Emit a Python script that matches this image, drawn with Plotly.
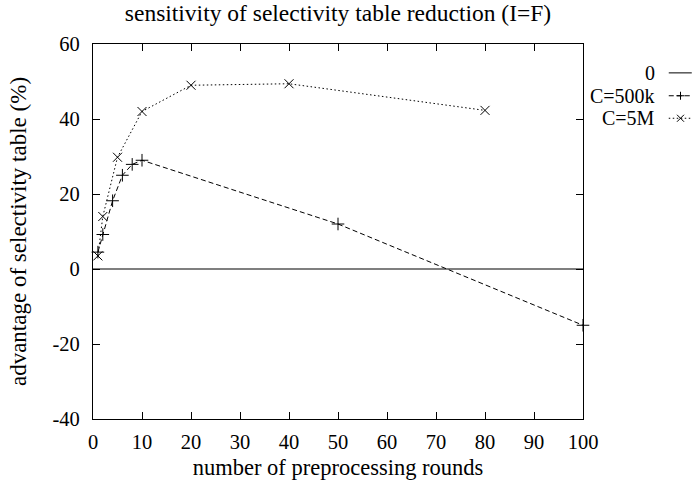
import plotly.graph_objects as go

# data
zero_x = [0, 100]
zero_y = [0, 0]
c500k_x = [1, 2, 4, 6, 8, 10, 50, 100]
c500k_y = [4.5, 9.2, 18.2, 25.0, 27.9, 29.0, 12.0, -15.0]
c5m_x = [1, 2, 5, 10, 20, 40, 80]
c5m_y = [3.5, 14.0, 29.8, 42.0, 49.0, 49.4, 42.3]
x_ticks = [0, 10, 20, 30, 40, 50, 60, 70, 80, 90, 100]
y_ticks = [-40, -20, 0, 20, 40, 60]
y_ticklabels = ["-40", "-20", "0", "20", "40", "60"]
legend_names = ["0", "C=500k", "C=5M"]

FONT = "Liberation Serif"
DASH_500K = "5px,3px"
DASH_5M = "1.5px,2.5px"

fig = go.Figure()
fig.add_trace(go.Scatter(x=zero_x, y=zero_y, mode="lines",
                         line=dict(color="black", width=1.2), name=legend_names[0]))
fig.add_trace(go.Scatter(x=c500k_x, y=c500k_y, mode="lines+markers",
                         line=dict(color="black", width=1, dash=DASH_500K),
                         marker=dict(symbol="cross-thin", size=9, color="black",
                                     line=dict(color="black", width=1)),
                         name=legend_names[1], cliponaxis=False))
fig.add_trace(go.Scatter(x=c5m_x, y=c5m_y, mode="lines+markers",
                         line=dict(color="black", width=1, dash=DASH_5M),
                         marker=dict(symbol="x-thin", size=9, color="black",
                                     line=dict(color="black", width=1)),
                         name=legend_names[2], cliponaxis=False))

# gnuplot-style key: right-aligned text, sample to the right
leg_y = [0.923, 0.862, 0.802]
dashes = ["solid", DASH_500K, DASH_5M]
symbols = [None, "plus", "cross"]
KEY_TEXT_X = 1.151
KEY_LINE = (1.175, 1.222)
KEY_MARK_X = 1.199


def glyph(kind, yc):
    segs = []
    if kind == "plus":
        segs = [(-4, 0, 4, 0), (0, -4, 0, 4)]
    elif kind == "cross":
        segs = [(-3.5, -3.5, 3.5, 3.5), (-3.5, 3.5, 3.5, -3.5)]
    for x0, y0, x1, y1 in segs:
        fig.add_shape(type="line", xref="paper", yref="paper",
                      xsizemode="pixel", ysizemode="pixel",
                      xanchor=KEY_MARK_X, yanchor=yc,
                      x0=x0, x1=x1, y0=y0, y1=y1,
                      line=dict(color="black", width=1))


for i, name in enumerate(legend_names):
    fig.add_annotation(xref="paper", yref="paper", x=KEY_TEXT_X, y=leg_y[i], text=name,
                       showarrow=False, xanchor="right", yanchor="middle",
                       font=dict(family=FONT, size=20, color="black"))
    fig.add_shape(type="line", xref="paper", yref="paper", x0=KEY_LINE[0], x1=KEY_LINE[1],
                  y0=leg_y[i], y1=leg_y[i], line=dict(color="black", width=1, dash=dashes[i]))
    if symbols[i]:
        glyph(symbols[i], leg_y[i])

axis_common = dict(showgrid=False, zeroline=False, ticks="inside", ticklen=7,
                   tickcolor="black", tickwidth=1, showline=True, linecolor="black",
                   linewidth=1.3, mirror="ticks",
                   tickfont=dict(family=FONT, size=20.5, color="black"))
fig.update_layout(
    width=696, height=488,
    margin=dict(l=93, r=113, t=44, b=67),
    paper_bgcolor="white", plot_bgcolor="white",
    title=dict(text="sensitivity of selectivity table reduction (I=F)", x=0.5, xref="paper",
               y=1 - 13 / 488, yanchor="middle", font=dict(family=FONT, size=23.5, color="black")),
    xaxis=dict(range=[0, 100], tickvals=x_ticks, ticklabelstandoff=4,
               title=dict(text="number of preprocessing rounds",
                          font=dict(family=FONT, size=22.5, color="black"), standoff=7),
               **axis_common),
    yaxis=dict(range=[-40, 60], tickvals=y_ticks, ticktext=y_ticklabels, ticklabelstandoff=8,
               title=dict(text="advantage of selectivity table (%)",
                          font=dict(family=FONT, size=23, color="black"), standoff=19),
               **axis_common),
    showlegend=False,
)
fig.write_html("out.html", config={"displayModeBar": False},
               post_script="document.body.style.margin='0';document.body.style.overflow='hidden';")
